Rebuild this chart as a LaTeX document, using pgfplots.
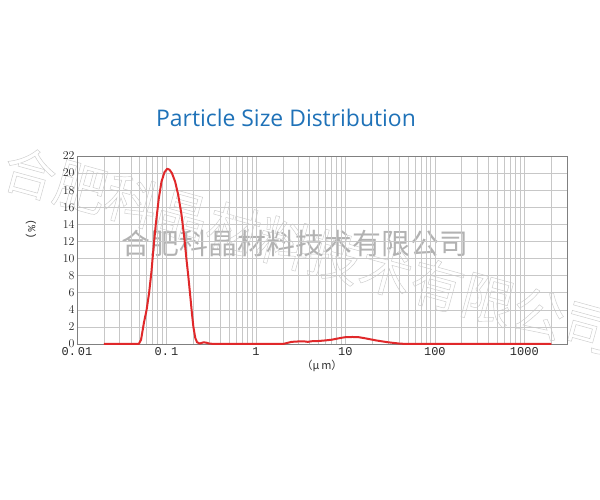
\documentclass[border=0pt]{standalone}
\usepackage{fontspec}
\usepackage{pgfplots}
\pgfplotsset{compat=1.18}
\setmainfont{Open Sans}
\newfontfamily\cjk{Noto Sans CJK SC}
\newfontfamily\tickfont{Liberation Mono}
\definecolor{titleblue}{HTML}{1F72B8}
\definecolor{curvered}{HTML}{E0282A}
\pgfplotstableread{
x y
0.020 0
0.030 0
0.040 0
0.049 0
0.052 0.5
0.056 2.5
0.060 4
0.064 6
0.068 8.5
0.072 11.5
0.076 14
0.082 17
0.088 19
0.095 20.1
0.102 20.5
0.108 20.4
0.115 20
0.125 19
0.135 17.5
0.147 15.2
0.158 12.5
0.167 10
0.176 7.8
0.185 5.5
0.193 3.5
0.200 2
0.210 0.7
0.220 0.2
0.235 0.05
0.260 0.2
0.280 0.15
0.300 0.05
0.350 0
1.0 0
2.0 0
2.2 0.1
2.5 0.25
3.0 0.3
3.5 0.3
3.8 0.25
4.2 0.32
5.0 0.35
6.0 0.42
7.0 0.5
8.0 0.62
9.0 0.72
10 0.8
12 0.82
14 0.8
16 0.7
19 0.55
22 0.42
26 0.3
30 0.2
35 0.12
40 0.05
45 0.02
50 0
100 0
1000 0
2000 0
}\psd
\begin{document}
\begin{tikzpicture}[x=1bp,y=1bp]
\useasboundingbox (0,0) rectangle (600,500);
\fill[white] (0,0) rectangle (600,500);
\begin{scope}
\clip (0,0) rectangle (600,500);
% diagonal outlined watermark
\node[text=gray!40, rotate=-15.4, inner sep=0] at (310,250)
  {\special{pdf:literal direct 1 Tr 0.45 w}\cjk\fontsize{53}{53}\selectfont 合肥科晶材料技术有限公司\special{pdf:literal direct 0 Tr}};
\end{scope}
% horizontal watermark
\node[text=gray!60, inner sep=0] at (295,257)
  {\cjk\fontsize{29}{29}\selectfont 合肥科晶材料技术有限公司};
% title
\node[text=titleblue, inner sep=0] at (286,382)
  {\fontsize{23}{23}\selectfont Particle Size Distribution};
% y label
\node[rotate=-90, inner sep=0, text=black!80] at (31,271)
  {\tickfont\fontsize{11}{11}\selectfont (\%)};
\begin{axis}[
  at={(77bp,156bp)}, anchor=south west, scale only axis,
  width=490bp, height=188bp,
  xmode=log, xmin=0.01, xmax=3000, ymin=0, ymax=22,
  clip=false,
  ytick={0,2,...,22},
  xtick={0.01,0.1,1,10,100,1000},
  xticklabels={0.\,01,0.\,1,1,10,100,1000},
  minor xtick={0.02,0.03,0.04,0.05,0.06,0.07,0.08,0.09,
               0.2,0.3,0.4,0.5,0.6,0.7,0.8,0.9,
               2,3,4,5,6,7,8,9,
               20,30,40,50,60,70,80,90,
               200,300,400,500,600,700,800,900,2000},
  grid=both,
  major grid style={draw=black!22, line width=0.6bp},
  minor grid style={draw=black!22, line width=0.6bp},
  axis line style={draw=black!50, line width=0.8bp},
  major tick length=0pt, minor tick length=0pt,
  yticklabel style={font=\tickfont\fontsize{12}{12}\selectfont, text=black!85, xshift=1bp},
  xticklabel style={font=\tickfont\fontsize{12}{12}\selectfont, text=black!85},
  xlabel={\cjk\fontsize{11}{11}\selectfont （μ\,m）},
  xlabel style={yshift=2bp, text=black!80},
]
\addplot[curvered, line width=2bp, line join=round] table[x=x,y=y] {\psd};
\end{axis}
\end{tikzpicture}
\end{document}
